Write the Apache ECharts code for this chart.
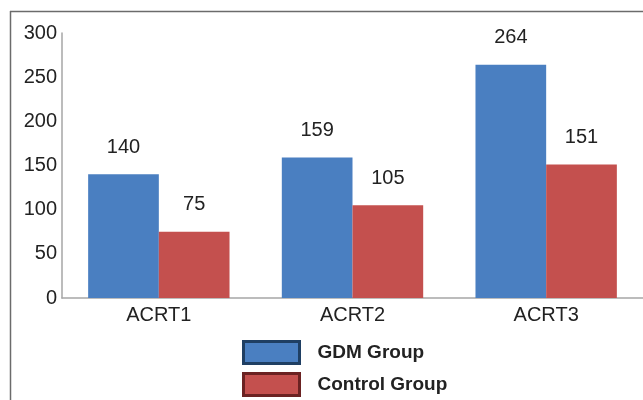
<!DOCTYPE html>
<html><head><meta charset="utf-8">
<script src="https://cdn.jsdelivr.net/npm/echarts@6/dist/echarts.min.js"></script>
<style>html,body{margin:0;padding:0;background:#fff}#c{width:643px;height:400px}</style>
</head><body><div id="c"></div>
<script>
const categories = ['ACRT1', 'ACRT2', 'ACRT3'];
const gdmValues = [140, 159, 264];
const controlValues = [75, 105, 151];
const seriesNames = ['GDM Group', 'Control Group'];
const yTicks = [0, 50, 100, 150, 200, 250, 300];

const chart = echarts.init(document.getElementById('c'), null, {renderer: 'canvas'});
const font = 'Liberation Sans, Arial, sans-serif';
const fs = 20;
chart.setOption({
  animation: false,
  graphic: [
    {type: 'line', shape: {x1: 10, y1: 11.5, x2: 643, y2: 11.5}, style: {stroke: '#6b6b6b', lineWidth: 1.5}},
    {type: 'line', shape: {x1: 10.5, y1: 11, x2: 10.5, y2: 400}, style: {stroke: '#6b6b6b', lineWidth: 1.5}}
  ],
  grid: {left: 62, right: -1, top: 33, bottom: 102, containLabel: false},
  legend: {
    orient: 'vertical', left: 242, top: 340, height: 60, padding: 0,
    itemWidth: 56, itemHeight: 22, itemGap: 7,
    icon: 'rect',
    textStyle: {fontFamily: font, fontSize: 19, fontWeight: 'bold', color: '#222', padding: [0, 0, 0, 13], lineHeight: 22},
    data: [
      {name: seriesNames[0], icon: 'rect', itemStyle: {color: '#4a7fc1', borderColor: '#1f3f63', borderWidth: 3}},
      {name: seriesNames[1], icon: 'rect', itemStyle: {color: '#c4504e', borderColor: '#6b2222', borderWidth: 3}}
    ]
  },
  xAxis: {
    type: 'category', data: categories,
    axisLine: {lineStyle: {color: '#a6a6a6', width: 1.5}},
    axisTick: {show: false},
    axisLabel: {fontFamily: font, fontSize: fs, color: '#222', margin: 7}
  },
  yAxis: {
    type: 'value', min: yTicks[0], max: yTicks[yTicks.length - 1], interval: yTicks[1] - yTicks[0],
    axisLine: {show: true, lineStyle: {color: '#a6a6a6', width: 1.5}},
    axisTick: {show: false},
    splitLine: {show: false},
    axisLabel: {fontFamily: font, fontSize: fs, color: '#222', margin: 5}
  },
  series: [
    {name: seriesNames[0], type: 'bar', data: gdmValues, barGap: '0%', barCategoryGap: '27%',
     itemStyle: {color: '#4a7fc1'},
     label: {show: true, position: 'top', distance: 17, fontFamily: font, fontSize: fs, color: '#222'}},
    {name: seriesNames[1], type: 'bar', data: controlValues, barGap: '0%', barCategoryGap: '27%',
     itemStyle: {color: '#c4504e'},
     label: {show: true, position: 'top', distance: 17, fontFamily: font, fontSize: fs, color: '#222'}}
  ]
});
</script></body></html>
